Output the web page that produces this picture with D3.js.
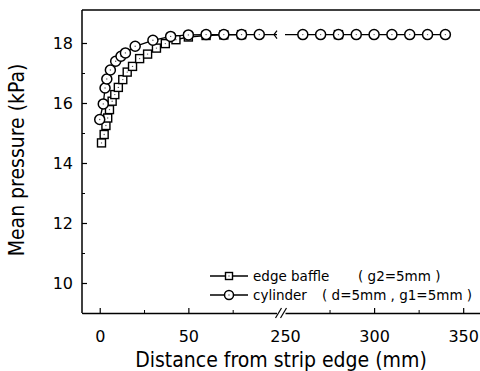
<!DOCTYPE html>
<html><head><meta charset="utf-8">
<script src="https://cdn.jsdelivr.net/npm/d3@7"></script>
<style>
html,body{margin:0;padding:0;background:#fff;}
svg{display:block;}
text{font-family:"DejaVu Sans",Verdana,sans-serif;fill:#000;}
.title{font-family:"DejaVu Sans Condensed","DejaVu Sans",sans-serif;font-stretch:condensed;}
</style></head>
<body>
<svg id="c" width="480" height="371"></svg>
<script>
// ---- data ----
const cylinderX = [0, 2, 3, 4, 6, 9, 12, 14.5, 20, 30, 40, 50, 60, 70, 80, 90, 260, 270, 280, 290, 300, 310, 320, 330, 340];
const cylinderY = [15.45, 15.97, 16.5, 16.8, 17.1, 17.39, 17.56, 17.67, 17.89, 18.09, 18.22, 18.27, 18.28, 18.28, 18.28, 18.28, 18.28, 18.28, 18.28, 18.28, 18.28, 18.28, 18.28, 18.28, 18.28];
const baffleX = [1, 2.5, 3.5, 4.5, 5.5, 7, 8.5, 10.5, 13, 15.5, 18.5, 22.5, 27, 32, 37, 43, 50, 60, 70, 80, 280];
const baffleY = [14.67, 14.95, 15.25, 15.5, 15.78, 16.06, 16.28, 16.52, 16.78, 17.03, 17.22, 17.48, 17.63, 17.83, 17.98, 18.11, 18.2, 18.25, 18.27, 18.28, 18.28];
const xTicksA = [0, 50];
const xTicksB = [250, 300, 350];
const xMinorA = [25, 75];
const xMinorB = [275, 325];
const yTicks = [10, 12, 14, 16, 18];
const yMinor = [9, 11, 13, 15, 17];
const legendNames = ["edge baffle", "cylinder"];
const legendParams = ["( g2=5mm )", "( d=5mm , g1=5mm )"];

const svg = d3.select("#c");
const L = 82, R = 481, T = 10, B = 313;
const xA = d3.scaleLinear().domain([-10, 100]).range([L, 277]);
const xB = d3.scaleLinear().domain([250, 360]).range([285, R]);
const xs = v => v <= 175 ? xA(v) : xB(v);
const y = d3.scaleLinear().domain([9, 19.1]).range([B, T]);

// frame
svg.append("line").attr("x1", L).attr("x2", R).attr("y1", T).attr("y2", T).attr("stroke", "#000").attr("stroke-width", 1.5);
svg.append("line").attr("x1", L).attr("x2", L).attr("y1", T).attr("y2", B).attr("stroke", "#000").attr("stroke-width", 1.5);

// x axes
function xAxis(scale, ticks, minor) {
  const g = svg.append("g").attr("transform", `translate(0,${B})`);
  g.call(d3.axisBottom(scale).tickValues(ticks).tickSizeInner(-5).tickSizeOuter(0).tickPadding(18).tickFormat(d3.format("d")));
  g.select(".domain").attr("stroke-width", 1.5);
  g.selectAll(".tick line").attr("stroke-width", 1.2);
  g.selectAll("text").style("font-size", "16px").attr("font-family", "DejaVu Sans");
  const m = svg.append("g").attr("transform", `translate(0,${B})`);
  m.call(d3.axisBottom(scale).tickValues(minor).tickSizeInner(-3).tickSizeOuter(0).tickFormat(""));
  m.select(".domain").remove();
  return g;
}
xAxis(xA, xTicksA, xMinorA);
const gB = xAxis(xB, xTicksB, xMinorB);
gB.selectAll(".tick").filter(d => d === 250).select("line").remove();

// break marks on x axis
const bx = (xA.range()[1] + xB.range()[0]) / 2;
svg.append("rect").attr("x", xA.range()[1]).attr("y", B - 3).attr("width", xB.range()[0] - xA.range()[1]).attr("height", 6).attr("fill", "#fff");
[-2.5, 2.5].forEach(o => {
  svg.append("line").attr("x1", bx + o - 3).attr("y1", B + 5).attr("x2", bx + o + 3).attr("y2", B - 5)
    .attr("stroke", "#000").attr("stroke-width", 1.2);
});

// y axis
const gy = svg.append("g").attr("transform", `translate(${L},0)`);
gy.call(d3.axisLeft(y).tickValues(yTicks).tickSizeInner(-5).tickSizeOuter(0).tickPadding(9).tickFormat(d3.format("d")));
gy.select(".domain").remove();
gy.selectAll(".tick line").attr("stroke-width", 1.2);
gy.selectAll("text").style("font-size", "16px");
const gym = svg.append("g").attr("transform", `translate(${L},0)`);
gym.call(d3.axisLeft(y).tickValues(yMinor).tickSizeInner(-3).tickSizeOuter(0).tickFormat(""));
gym.select(".domain").remove();

// axis titles
svg.append("text").attr("class", "title").attr("x", 281).attr("y", 367).attr("text-anchor", "middle").style("font-size", "21px")
  .text("Distance from strip edge (mm)");
svg.append("text").attr("class", "title").attr("transform", "translate(24,160) rotate(-90)").attr("text-anchor", "middle").style("font-size", "21px")
  .text("Mean pressure (kPa)");

// series
const cyl = cylinderX.map((v, i) => ({x: v, y: cylinderY[i]}));
const baf = baffleX.map((v, i) => ({x: v, y: baffleY[i]}));
const line = d3.line().x(d => xs(d.x)).y(d => y(d.y));

function drawLines(data, extend) {
  const a = data.filter(d => d.x <= 175);
  const b = data.filter(d => d.x > 175);
  if (extend && a.length) a.push({x: xA.domain()[1], y: a[a.length - 1].y});
  if (extend && b.length) b.unshift({x: xB.domain()[0], y: b[0].y});
  [a, b].forEach(s => {
    if (s.length > 1) svg.append("path").attr("d", line(s)).attr("fill", "none").attr("stroke", "#000").attr("stroke-width", 1.3);
  });
}
drawLines(baf, false);
drawLines(cyl, true);

// chevron at the break on the data line
const cy = y(cylinderY[15]);
svg.append("path").attr("d", `M${xA.range()[1]},${cy - 4} L${xA.range()[1] - 3},${cy} L${xA.range()[1]},${cy + 4}`)
  .attr("fill", "none").attr("stroke", "#000").attr("stroke-width", 1.2);

// markers
function square(g, cx, cyy, s) {
  g.append("rect").attr("x", cx - s / 2).attr("y", cyy - s / 2).attr("width", s).attr("height", s)
    .attr("fill", "#fff").attr("stroke", "#000").attr("stroke-width", 1.4);
  g.append("circle").attr("cx", cx).attr("cy", cyy).attr("r", 0.7).attr("fill", "#555");
}
function circ(g, cx, cyy, r) {
  g.append("circle").attr("cx", cx).attr("cy", cyy).attr("r", r)
    .attr("fill", "#fff").attr("stroke", "#000").attr("stroke-width", 1.5);
  g.append("circle").attr("cx", cx).attr("cy", cyy).attr("r", 0.7).attr("fill", "#555");
}
const gm = svg.append("g");
baf.forEach(d => square(gm, xs(d.x), y(d.y), 8));
cyl.forEach(d => circ(gm, xs(d.x), y(d.y), 5));

// legend
const lg = svg.append("g");
const rowsY = [276, 295];
rowsY.forEach((ry, i) => {
  lg.append("line").attr("x1", 210).attr("x2", 248).attr("y1", ry).attr("y2", ry).attr("stroke", "#000").attr("stroke-width", 1.3);
  if (i === 0) square(lg, 229, ry, 7); else circ(lg, 229, ry, 4.5);
  lg.append("text").attr("x", 253).attr("y", ry + 4.5).style("font-size", "13.5px").text(legendNames[i]);
  lg.append("text").attr("x", i === 0 ? 358 : 322).attr("y", ry + 4.5).style("font-size", "13.5px").text(legendParams[i]);
});
</script>
</body></html>
